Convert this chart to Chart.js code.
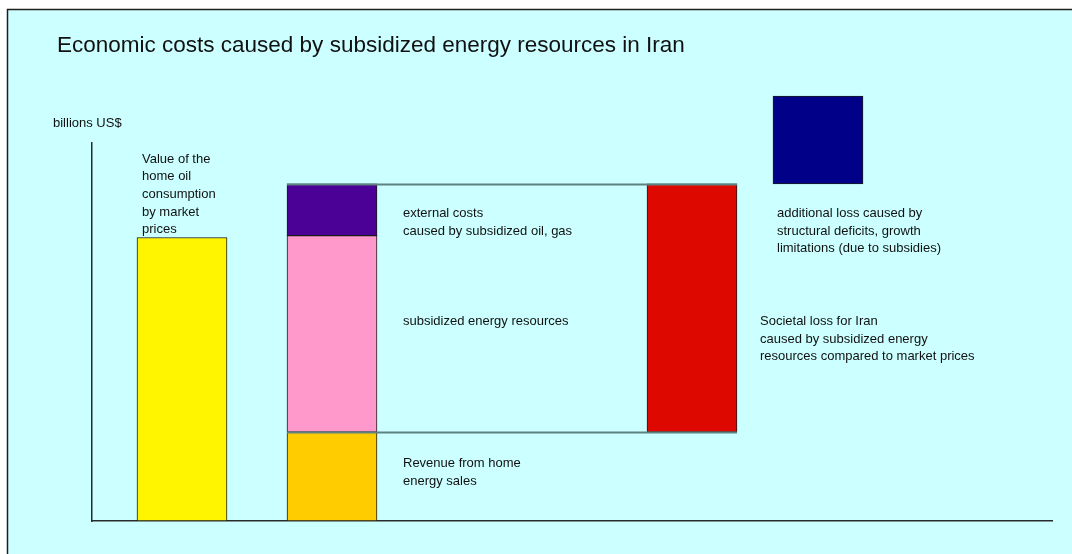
<!DOCTYPE html>
<html>
<head>
<meta charset="utf-8">
<script src="https://cdn.jsdelivr.net/npm/chart.js@4.4.1/dist/chart.umd.min.js"></script>
<style>
  html, body { margin: 0; padding: 0; background: #ffffff; }
  #wrap { position: relative; width: 1072px; height: 554px; }
  canvas { display: block; }
</style>
</head>
<body>
<div id="wrap"><canvas id="c" width="1072" height="554"></canvas></div>
<script>
// ---- data (schematic values, billions US$) ----
const chartTitle = 'Economic costs caused by subsidized energy resources in Iran';
const yAxisLabel = 'billions US$';
const categories = ['Home oil value', 'Energy balance', 'Societal loss', 'Additional loss'];
const homeOilValue = [75];                 // value of the home oil consumption by market prices
const energySegments = [23.5, 52, 13.7];   // revenue, subsidized resources, external costs
const additionalLoss = [23.2];             // structural deficits, growth limitations
const yMax = 100;

const labelValue = ['Value of the', 'home oil', 'consumption', 'by market', 'prices'];
const labelExternal = ['external costs', 'caused by subsidized oil, gas'];
const labelSubsidized = ['subsidized energy resources'];
const labelRevenue = ['Revenue from home', 'energy sales'];
const labelSocietal = ['Societal loss for Iran', 'caused by subsidized energy', 'resources compared to market prices'];
const labelAdditional = ['additional loss caused by', 'structural deficits, growth', 'limitations (due to subsidies)'];

// ---- layout (slot of each category on the horizontal scale) ----
const slotOf = { 'Home oil value': 3, 'Energy balance': 8, 'Societal loss': 20, 'Additional loss': 24.2 };

const revenueTop = energySegments[0];
const subsidTop = revenueTop + energySegments[1];
const externalTop = subsidTop + energySegments[2];

const FONT = '"Liberation Sans", Arial, Helvetica, sans-serif';

function ds(label, cat, range, color, extra) {
  return Object.assign({
    label: label,
    data: [{ x: slotOf[cat], y: range }],
    backgroundColor: color,
    borderColor: '#1a1a1a',
    borderWidth: 1,
    borderSkipped: false,
    barThickness: 90,
    grouped: false
  }, extra || {});
}

const datasets = [
  ds('Value of the home oil consumption by market prices', categories[0], [0, homeOilValue[0]], '#FFF500'),
  ds('Revenue from home energy sales', categories[1], [0, revenueTop], '#FFCC00'),
  ds('subsidized energy resources', categories[1], [revenueTop, subsidTop], '#FF99CC'),
  ds('external costs caused by subsidized oil, gas', categories[1], [subsidTop, externalTop], '#4B0096'),
  ds('Societal loss for Iran', categories[2], [revenueTop, externalTop], '#DD0900'),
  ds('additional loss', categories[3], [externalTop, externalTop + additionalLoss[0]], '#000088', { clip: false })
];

const bgPlugin = {
  id: 'bg',
  beforeDraw(chart) {
    const ctx = chart.ctx;
    ctx.save();
    ctx.fillStyle = '#ffffff';
    ctx.fillRect(0, 0, chart.width, chart.height);
    ctx.fillStyle = '#CCFFFF';
    ctx.fillRect(7, 9, chart.width - 7, chart.height - 9);
    ctx.strokeStyle = '#1e1e1e';
    ctx.lineWidth = 1.5;
    ctx.beginPath();
    ctx.moveTo(7.5, chart.height);
    ctx.lineTo(7.5, 9.5);
    ctx.lineTo(chart.width, 9.5);
    ctx.stroke();
    ctx.restore();
  }
};

const textPlugin = {
  id: 'texts',
  afterDatasetsDraw(chart) {
    const ctx = chart.ctx;
    const y = chart.scales.y;
    const bar = i => chart.getDatasetMeta(i).data[0];
    const yellow = bar(0), stacked = bar(1), red = bar(4), blue = bar(5);
    const half = yellow.width / 2;

    ctx.save();
    // connector lines between the stacked bar and the societal-loss bar
    ctx.strokeStyle = '#5E8282';
    ctx.lineWidth = 2;
    [externalTop, revenueTop].forEach(v => {
      const py = Math.round(y.getPixelForValue(v)) + 0.5;
      ctx.beginPath();
      ctx.moveTo(stacked.x - half, py);
      ctx.lineTo(red.x + half, py);
      ctx.stroke();
    });

    ctx.fillStyle = '#111111';
    ctx.textBaseline = 'alphabetic';
    ctx.textAlign = 'left';
    ctx.font = '22.5px ' + FONT;
    ctx.fillText(chartTitle, 57, 52);
    ctx.font = '13px ' + FONT;
    ctx.fillText(yAxisLabel, 53, 127);

    const block = (lines, x, y0, step) => lines.forEach((t, i) => ctx.fillText(t, x, y0 + i * step));
    const step = 17.7;
    block(labelValue, yellow.x - half + 5, y.getPixelForValue(homeOilValue[0]) - 75, step);
    const rightOfStack = stacked.x + half + 26;
    block(labelExternal, rightOfStack, y.getPixelForValue(externalTop) + 33, step);
    block(labelSubsidized, rightOfStack, y.getPixelForValue((revenueTop + subsidTop) / 2) - 8.5, step);
    block(labelRevenue, rightOfStack, y.getPixelForValue(revenueTop) + 35, step);
    block(labelSocietal, red.x + half + 23, y.getPixelForValue((revenueTop + externalTop) / 2) + 17, step);
    block(labelAdditional, blue.x - half + 4, y.getPixelForValue(externalTop) + 33, step);
    ctx.restore();
  }
};

new Chart(document.getElementById('c'), {
  type: 'bar',
  data: { datasets: datasets },
  options: {
    responsive: false,
    animation: false,
    events: [],
    layout: { padding: { left: 92, top: 143, right: 20, bottom: 33 } },
    plugins: { legend: { display: false }, tooltip: { enabled: false }, title: { display: false } },
    scales: {
      x: {
        type: 'linear', min: 0, max: 32, offset: false,
        grid: { display: false, drawTicks: false },
        ticks: { display: false },
        border: { display: true, color: '#2a2a2a', width: 1.5 }
      },
      y: {
        type: 'linear', min: 0, max: yMax,
        grid: { display: false, drawTicks: false },
        ticks: { display: false },
        border: { display: true, color: '#2a2a2a', width: 1.5 }
      }
    }
  },
  plugins: [bgPlugin, textPlugin]
});
</script>
</body>
</html>
